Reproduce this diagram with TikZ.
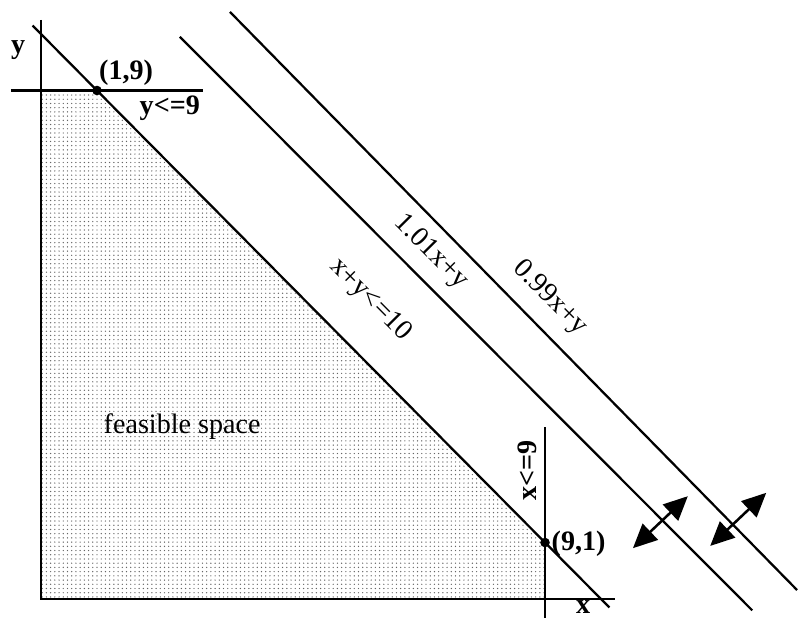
\documentclass[tikz,border=0pt]{standalone}
\usepackage{fontspec}
\setmainfont{Liberation Serif}
\usetikzlibrary{arrows.meta, patterns}

\begin{document}
\begin{tikzpicture}[
    x=1.4cm, y=1.4125cm,
    font=\fontsize{20}{24}\selectfont,
    line width=1.6pt,
    lbl/.style={font=\fontsize{20}{24}\selectfont\bfseries, inner sep=1pt},
    cut/.style={inner sep=1pt, rotate=-45.3},
    vertex/.style={circle, fill, inner sep=0pt, minimum size=0.24cm},
    swing/.style={{Triangle[length=0.6cm, width=0.55cm]}-{Triangle[length=0.6cm, width=0.55cm]}, line width=1.8pt}
  ]
  \useasboundingbox (-0.732,-0.336) rectangle (13.571,10.602);

  % Feasible region
  \fill[pattern=dots, pattern color=black!60] (0,0) -- (0,9) -- (1,9) -- (9,1) -- (9,0) -- cycle;

  % Axes
  \coordinate (O) at (0,0);
  \coordinate (ytop) at (0,10.25);
  \coordinate (xend) at (10.25,0);
  \draw (ytop) -- (O) -- (xend);
  \node[lbl] (ylab) at (-0.41,9.72) {y};
  \node[lbl] (xlab) at (9.68,-0.15) {x};

  % Constraints
  \coordinate (yc1) at (-0.54,9);
  \coordinate (yc2) at (2.89,9);
  \draw (yc1) -- (yc2);
  \coordinate (xc1) at (9,3.04);
  \coordinate (xc2) at (9,-0.34);
  \draw (xc1) -- (xc2);
  \coordinate (sc1) at (-0.15,10.15);
  \coordinate (sc2) at (10.15,-0.15);
  \draw (sc1) -- (sc2);

  % Objective lines
  \coordinate (ob1a) at (2.48,9.95);
  \coordinate (ob1b) at (12.7,-0.2);
  \draw (ob1a) -- (ob1b);
  \coordinate (ob2a) at (3.375,10.39);
  \coordinate (ob2b) at (13.5,0.16);
  \draw (ob2a) -- (ob2b);

  % Vertices
  \node[vertex] (p19) at (1,9) {};
  \node[vertex] (p91) at (9,1) {};
  \node[lbl] (p19lab) at (1.52,9.31) {(1,9)};
  \node[lbl] (p91lab) at (9.6,0.97) {(9,1)};

  % Labels
  \node[lbl] (ycon) at (2.3,8.69) {y<=9};
  \node[lbl, rotate=90] (xcon) at (8.68,2.28) {x<=9};
  \node (region) at (2.52,3.06) {feasible space};
  \node[cut] (scon) at (5.875,5.29) {x+y<=10};
  \node[cut] (ob1lab) at (6.96,6.14) {1.01x+y};
  \node[cut] (ob2lab) at (9.09,5.33) {0.99x+y};

  % Rotation arrows
  \coordinate (r1a) at (10.57,0.90);
  \coordinate (r1b) at (11.55,1.82);
  \draw[swing] (r1a) -- (r1b);
  \coordinate (r2a) at (11.95,0.94);
  \coordinate (r2b) at (12.95,1.88);
  \draw[swing] (r2a) -- (r2b);

\end{tikzpicture}
\end{document}
